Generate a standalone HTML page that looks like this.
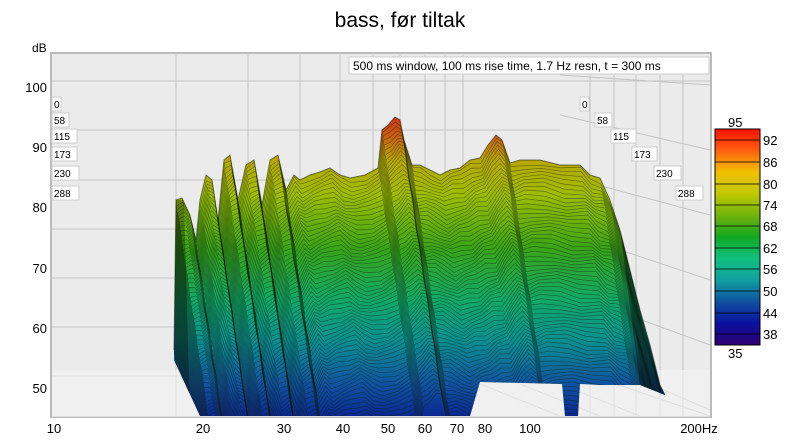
<!DOCTYPE html>
<html><head><meta charset="utf-8"><style>
html,body{margin:0;background:#fff;width:800px;height:441px;overflow:hidden;font-family:"Liberation Sans",sans-serif}
svg{display:block}
svg text{font-family:"Liberation Sans",sans-serif}
</style></head><body>
<svg id="s" width="800" height="441" viewBox="0 0 800 441" xmlns="http://www.w3.org/2000/svg">
<defs>
<linearGradient id="g" gradientUnits="userSpaceOnUse" x1="0" y1="112" x2="0" y2="416">
<stop offset="0" stop-color="#d02a10"/>
<stop offset="0.08" stop-color="#c86010"/>
<stop offset="0.16" stop-color="#b8a800"/>
<stop offset="0.27" stop-color="#a0bc00"/>
<stop offset="0.45" stop-color="#38a418"/>
<stop offset="0.62" stop-color="#10a868"/>
<stop offset="0.75" stop-color="#0a9090"/>
<stop offset="0.9" stop-color="#1050a0"/>
<stop offset="1" stop-color="#0a2890"/>
</linearGradient>
<linearGradient id="cb" x1="0" y1="0" x2="0" y2="1">
<stop offset="0" stop-color="#ff1000"/><stop offset="0.1" stop-color="#ff6010"/>
<stop offset="0.2" stop-color="#f0c000"/><stop offset="0.3" stop-color="#c0c800"/>
<stop offset="0.42" stop-color="#60b010"/><stop offset="0.5" stop-color="#10a820"/>
<stop offset="0.6" stop-color="#10c080"/><stop offset="0.7" stop-color="#10a0a0"/>
<stop offset="0.8" stop-color="#1050a0"/><stop offset="0.9" stop-color="#0a10a0"/>
<stop offset="1" stop-color="#300070"/>
</linearGradient>
<clipPath id="cl"><polygon id="cp" points=""/></clipPath>
</defs>
<text x="400" y="27" font-size="21" text-anchor="middle">bass, før tiltak</text>
<text x="32" y="52" font-size="12">dB</text>
<rect x="51" y="53" width="660" height="364" fill="#ebebeb" stroke="#bbb" stroke-width="2"/>
<g stroke="#c4c4c4" stroke-width="1">
<line x1="52" y1="81" x2="710" y2="81"/><line x1="52" y1="130" x2="560" y2="130"/>
<line x1="52" y1="180" x2="560" y2="180"/><line x1="52" y1="229" x2="560" y2="229"/>
<line x1="52" y1="278" x2="560" y2="278"/><line x1="52" y1="327" x2="560" y2="327"/>
<line x1="52" y1="376" x2="560" y2="376"/>
<line x1="176" y1="55" x2="176" y2="416"/><line x1="248" y1="55" x2="248" y2="416"/>
<line x1="300" y1="55" x2="300" y2="416"/><line x1="340" y1="55" x2="340" y2="416"/>
<line x1="373" y1="55" x2="373" y2="416"/><line x1="400" y1="55" x2="400" y2="416"/>
<line x1="425" y1="55" x2="425" y2="416"/><line x1="445" y1="55" x2="445" y2="416"/>
<line x1="463" y1="55" x2="463" y2="416"/>
<line x1="590" y1="75" x2="590" y2="416"/><line x1="614" y1="75" x2="614" y2="416"/>
<line x1="636" y1="75" x2="636" y2="416"/><line x1="660" y1="75" x2="660" y2="416"/>
<line x1="683" y1="75" x2="683" y2="416"/>
<line x1="560" y1="75" x2="710" y2="85"/><line x1="560" y1="115" x2="710" y2="150"/>
<line x1="560" y1="175" x2="710" y2="215"/><line x1="560" y1="230" x2="710" y2="280"/>
<line x1="560" y1="290" x2="710" y2="345"/><line x1="560" y1="345" x2="710" y2="410"/>
<line x1="420" y1="360" x2="560" y2="416"/><line x1="460" y1="360" x2="600" y2="416"/>
<line x1="500" y1="360" x2="640" y2="416"/><line x1="560" y1="365" x2="710" y2="416"/>
</g>
<rect x="52" y="370" width="658" height="47" fill="#f4f4f4" opacity="0.6"/>
<g id="wf"></g>
<g font-size="10" fill="#000">
<rect x="349" y="57" width="360" height="17" fill="#fff" stroke="#ccc"/>
<text x="353" y="70" font-size="12">500 ms window, 100 ms rise time,  1.7 Hz resn, t = 300 ms</text>
<g fill="#fff" stroke="#ccc">
<rect x="52" y="97" width="9" height="14"/><rect x="52" y="113" width="17" height="14"/>
<rect x="52" y="129" width="25" height="14"/><rect x="52" y="147" width="25" height="14"/>
<rect x="52" y="166" width="27" height="14"/><rect x="52" y="186" width="27" height="14"/>
<rect x="580" y="97" width="9" height="14"/><rect x="595" y="113" width="17" height="14"/>
<rect x="611" y="129" width="25" height="14"/><rect x="632" y="147" width="25" height="14"/>
<rect x="654" y="166" width="27" height="14"/><rect x="676" y="186" width="27" height="14"/>
</g>
<text x="54" y="108">0</text><text x="54" y="124">58</text><text x="54" y="140">115</text>
<text x="54" y="158">173</text><text x="54" y="177">230</text><text x="54" y="197">288</text>
<text x="582" y="108">0</text><text x="597" y="124">58</text><text x="613" y="140">115</text>
<text x="634" y="158">173</text><text x="656" y="177">230</text><text x="678" y="197">288</text>
</g>
<g font-size="13" text-anchor="end">
<text x="47" y="92">100</text><text x="47" y="152">90</text><text x="47" y="212">80</text>
<text x="47" y="273">70</text><text x="47" y="333">60</text><text x="47" y="393">50</text>
</g>
<g font-size="13" text-anchor="middle">
<text x="54" y="433">10</text><text x="203" y="433">20</text><text x="284" y="433">30</text>
<text x="343" y="433">40</text><text x="388" y="433">50</text><text x="425" y="433">60</text>
<text x="457" y="433">70</text><text x="485" y="433">80</text><text x="530" y="433">100</text>
<text x="699" y="433">200Hz</text>
</g>
<rect x="715" y="129" width="45" height="216" fill="url(#cb)" stroke="#000"/>
<g stroke="#000" stroke-width="0.7">
<line x1="715" y1="140" x2="760" y2="140"/><line x1="715" y1="162" x2="760" y2="162"/>
<line x1="715" y1="184" x2="760" y2="184"/><line x1="715" y1="205" x2="760" y2="205"/>
<line x1="715" y1="226" x2="760" y2="226"/><line x1="715" y1="248" x2="760" y2="248"/>
<line x1="715" y1="269" x2="760" y2="269"/><line x1="715" y1="291" x2="760" y2="291"/>
<line x1="715" y1="313" x2="760" y2="313"/><line x1="715" y1="334" x2="760" y2="334"/>
</g>
<g font-size="13">
<text x="728" y="127">95</text><text x="728" y="358">35</text>
<text x="763" y="145">92</text><text x="763" y="167">86</text><text x="763" y="189">80</text>
<text x="763" y="210">74</text><text x="763" y="231">68</text><text x="763" y="253">62</text>
<text x="763" y="274">56</text><text x="763" y="296">50</text><text x="763" y="318">44</text>
<text x="763" y="339">38</text>
</g>
</svg>
<script>
(function(){
var tp=[[174,350],[176,200],[182,198],[190,215],[196,240],[200,200],[206,175],[212,180],[218,220],[224,160],[230,155],[238,200],[246,165],[254,160],[262,205],[270,160],[278,155],[286,190],[294,175],[300,180],[310,175],[320,172],[330,168],[340,175],[350,178],[365,175],[378,168],[382,130],[388,125],[395,117],[400,120],[404,140],[412,165],[420,165],[430,170],[440,175],[450,170],[460,168],[470,160],[480,158],[488,145],[496,135],[502,140],[510,163],[520,160],[540,160],[560,165],[580,165],[590,175],[600,178],[610,200],[620,230],[630,270],[640,310],[650,345],[660,385],[665,395]];
var bt=[[640,385],[600,385],[580,384],[578,416],[565,416],[562,384],[480,382],[470,416],[200,416],[174,360]];
var pts=tp.concat(bt).map(function(p){return p.join(',')}).join(' ');
var ns="http://www.w3.org/2000/svg",wf=document.getElementById('wf');
document.getElementById('cp').setAttribute('points',pts);
var pg=document.createElementNS(ns,'polygon');pg.setAttribute('points',pts);pg.setAttribute('fill','url(#g)');wf.appendChild(pg);
var g=document.createElementNS(ns,'g');g.setAttribute('clip-path','url(#cl)');wf.appendChild(g);
for(var i=1;i<70;i++){var d='';for(var j=0;j<tp.length;j++){var x=tp[j][0]+i*0.6,y=tp[j][1]+i*4+Math.sin(j*1.3+i*0.5)*2;d+=(j?'L':'M')+x+' '+y;}
var p=document.createElementNS(ns,'path');p.setAttribute('d',d);p.setAttribute('fill','none');p.setAttribute('stroke','#102010');p.setAttribute('stroke-opacity','0.45');p.setAttribute('stroke-width','0.7');g.appendChild(p);}
var sh=document.createElementNS(ns,'path');sh.setAttribute('d','M174 350 L176 200 L184 200 L190 416 L174 360Z M620 230 L665 395 L640 385Z');sh.setAttribute('fill','#000');sh.setAttribute('opacity','0.3');sh.setAttribute('clip-path','url(#cl)');wf.appendChild(sh);
var ol=document.createElementNS(ns,'polyline');ol.setAttribute('points',tp.map(function(p){return p.join(',')}).join(' '));ol.setAttribute('fill','none');ol.setAttribute('stroke','#000');ol.setAttribute('stroke-opacity','0.5');wf.appendChild(ol);
})();
</script>
</body></html>
